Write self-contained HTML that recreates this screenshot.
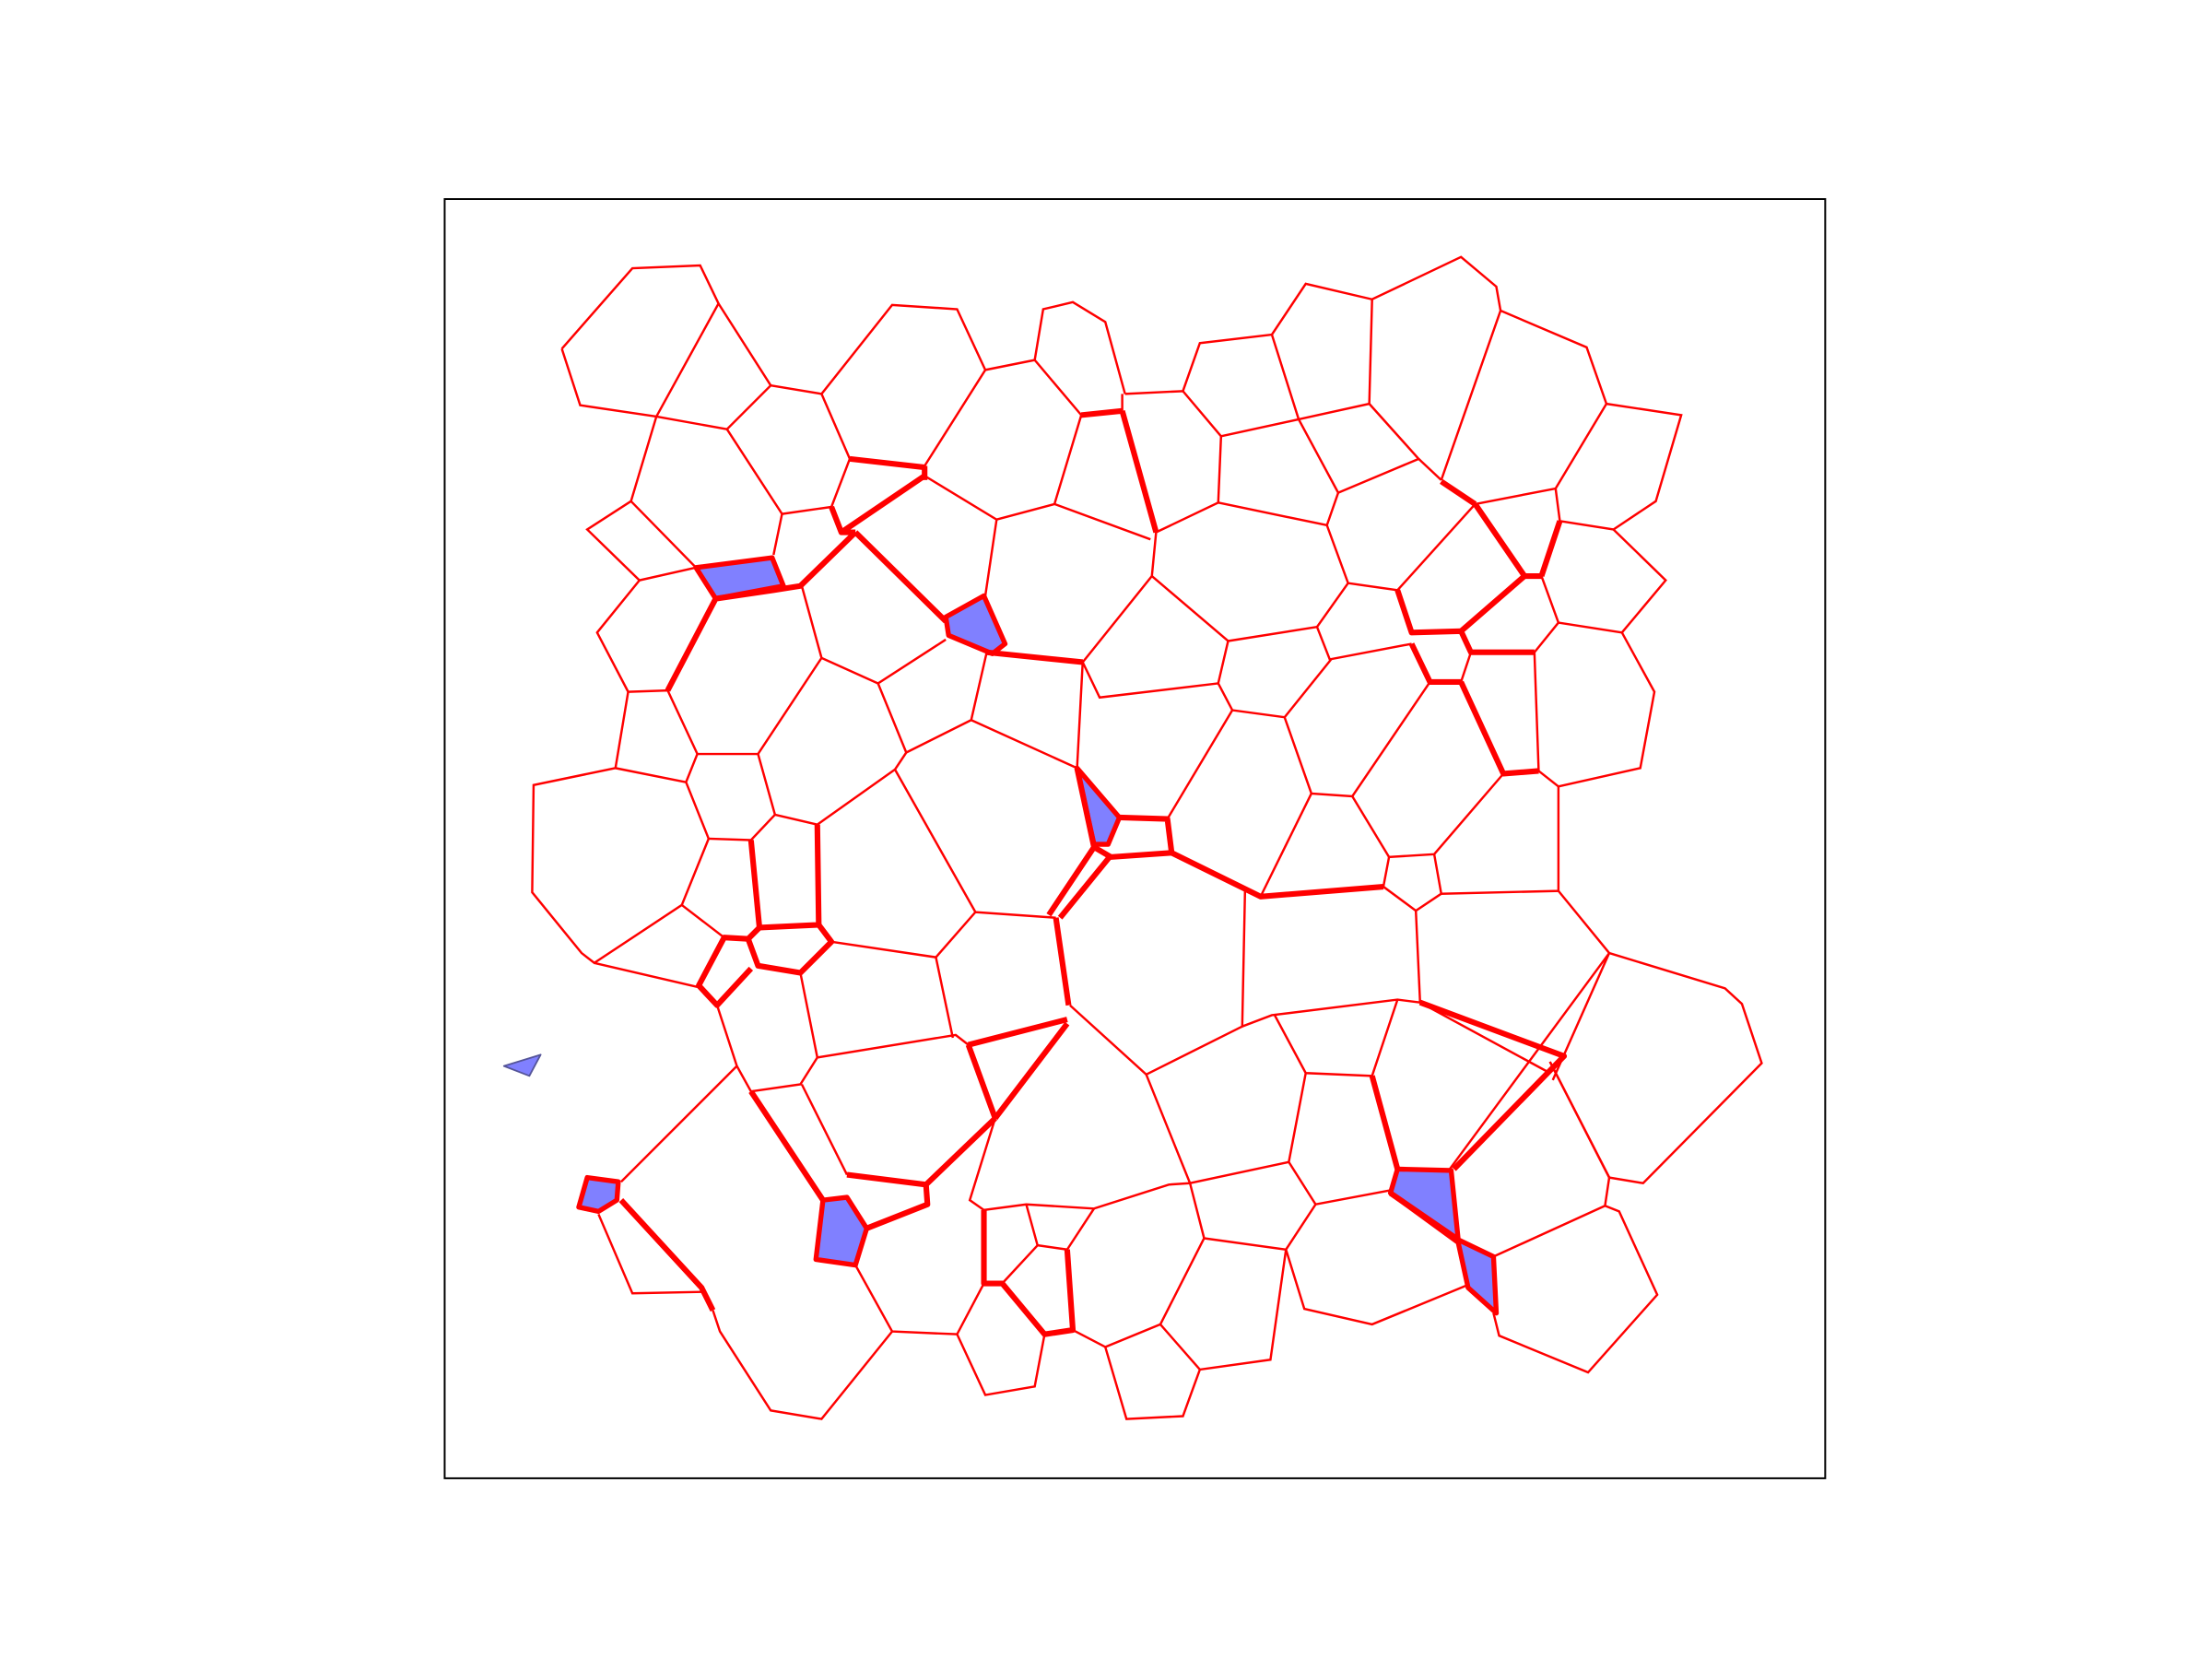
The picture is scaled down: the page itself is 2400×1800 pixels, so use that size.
<!DOCTYPE html>
<html><head><meta charset="utf-8"><style>
html,body{margin:0;padding:0;background:#fff;}
svg{display:block;}
</style></head><body>
<svg id="chart" width="2400" height="1800" viewBox="0 0 1567 1175" preserveAspectRatio="none" xmlns="http://www.w3.org/2000/svg">
<rect x="315" y="141" width="978" height="906" fill="none" stroke="#000" stroke-width="1.3"/>
<g id="fills"></g><g id="edges"></g>
</svg>
<script>
const cellFills = [
[493,402,547,395,555,415,507,424],
[670,437,697,422,712,456,703,463,672,450],
[763,544,793,579,785,598,775,598],
[583,850,600,848,614,870,606,896,578,892],
[416,834,438,837,437,850,424,858,410,855],
[985,845,990,828,1028,829,1033,878,1058,890,1060,930,1040,912,1033,880],
[357,755,383,747,375,762]
];
const thinEdges = [
[398,247,448,190,496,188,509,215,465,295,411,287,398,247],
[509,215,546,273,515,304,465,295],
[546,273,582,279,632,216,678,219,698,262,655,330],
[582,279,602,325],
[515,304,554,364,548,393],
[465,295,447,355,416,375,453,411,493,402,447,355],
[554,364,589,359,602,325],
[655,337,706,368,698,422],
[698,262,733,255,766,294],[797,279,783,228,760,214,739,219,733,255],
[795,279,795,291],
[766,294,747,357,706,368],[747,357,815,382],
[819,377,863,356,865,309,838,277,797,279],
[838,277,850,243,901,237,920,297,865,309],
[901,237,925,201,972,212,1035,182,1060,203,1063,220,1021,340],
[972,212,970,286,920,297,948,349,940,372,863,356],
[970,286,1005,325,948,349],[1005,325,1021,340],
[1063,220,1124,246,1138,286,1102,346,1045,357],
[1138,286,1191,294,1173,355,1143,375,1105,369,1102,346],
[1143,375,1180,411,1149,448,1104,441,1092,408],
[1045,357,990,418,955,413,940,372],
[1104,441,1087,462,1090,546,1104,557,1162,544,1172,490,1149,448],
[1000,456,942,467,933,444,955,413],
[933,444,870,454,863,484,779,494,767,469],
[1013,483,958,564,929,562,910,508,873,503,863,484],
[873,503,827,580],[910,508,943,467],
[1065,548,1016,605,984,607,958,564],
[1016,605,1021,633,1104,631,1104,557],
[1104,631,1140,675,1222,700,1234,711,1248,753,1164,838,1140,834,1098,752],
[1021,633,1003,645,980,628,984,607],
[893,635,929,562],
[1003,645,1006,710],
[1006,710,990,708,901,719,880,727,882,630],
[880,727,812,761,758,712],
[990,708,972,762,925,760,903,719],
[1006,710,1098,760],
[1140,675,1027,828],[1140,675,1100,765],[1098,752,1140,834],
[1058,890,1137,854,1140,834],[1137,854,1147,858,1174,917,1125,972,1062,946,1058,930],
[1040,910,972,938,924,927,911,885,932,853,985,843],
[932,853,913,823,925,760],[913,823,843,838,812,761],
[843,838,853,877,911,885,900,963,850,970,838,1003,798,1005,783,954,822,938,853,877],
[822,938,850,970],
[843,838,828,839,775,856,727,853,697,857,687,850,705,792],
[686,740,677,733,579,749,567,768,532,773,522,755,508,712],
[748,650,691,646,663,678,589,667],
[691,646,634,545,642,533,688,510,699,462],
[642,533,622,484,670,453],[622,484,582,466,568,415],
[688,510,763,544,767,469],
[663,678,675,735],[600,832,568,768],[522,755,440,837],
[606,896,632,943,678,945,697,909],
[424,860,448,916,497,915],
[505,928,510,943,546,999,582,1005,632,943],
[678,945,698,988,733,982,740,945],
[727,853,735,882,756,885],[735,882,710,909],[760,942,783,954],
[756,885,775,856],
[453,411,423,448,445,490,436,544,378,556,377,632,412,675,421,682,483,641,502,594,486,554,494,534,473,489,445,490],
[436,544,486,554],
[494,534,537,534,582,466],[537,534,549,577,532,595,502,594],
[549,577,579,584,634,545],
[530,665,513,664,483,641],
[567,689,579,749],[421,682,494,699],
[767,469,816,408,819,377],[816,408,870,454],
[1035,483,1042,462]
];
const thickEdges = [
[602,325,655,331],[655,330,655,340],
[596,377,655,337],[589,359,596,377,606,377],
[766,294,795,291],
[795,291,819,377],
[1021,341,1045,357],
[1045,357,1080,408,1035,447],[1080,408,1092,408],[1092,408,1105,369],
[990,418,1000,448,1035,447,1042,462,1087,462],
[1000,456,1013,483,1035,483],
[1035,483,1065,548,1090,546],
[980,628,893,635,830,604,827,580,793,579],
[830,604,787,607,775,600],[786,607,751,650],
[763,544,775,600,743,648],
[748,650,757,712],[686,740,756,722],
[705,792,756,725],[705,792,686,740],
[705,792,656,839,600,832],[656,839,657,853,614,870],
[532,773,583,850],
[440,850,497,912,505,928],
[697,857,697,909,710,909,740,945,760,942,756,885],
[473,489,507,424,548,418,567,415,606,377],
[606,377,670,440],[699,462,767,469],
[579,584,580,655,538,657,532,595],
[538,657,530,665,513,664,495,698,508,712,532,686],
[580,655,589,667,567,689,537,684,530,665],
[1006,710,1108,748,1030,828],
[972,762,990,828],
[985,845,1033,878]
];
const NS='http://www.w3.org/2000/svg';
const fg=document.getElementById('fills'), eg=document.getElementById('edges');
function pts(a){let s=[];for(let i=0;i<a.length;i+=2)s.push(a[i]+','+a[i+1]);return s.join(' ');}
cellFills.forEach((c,i)=>{
 const last=i===cellFills.length-1;
 const p=document.createElementNS(NS,'polygon');
 p.setAttribute('points',pts(c));
 p.setAttribute('fill','#8080ff');
 p.setAttribute('stroke',last?'#555599':'#ff0000');
 p.setAttribute('stroke-width',last?'1.2':'3.5');
 p.setAttribute('stroke-linejoin','round');
 
 
 fg.appendChild(p);
});
thinEdges.forEach(e=>{
 const l=document.createElementNS(NS,'polyline');
 l.setAttribute('points',pts(e));
 l.setAttribute('fill','none');l.setAttribute('stroke','#ff0000');l.setAttribute('stroke-width','1.6');
 
 
 eg.appendChild(l);
});
thickEdges.forEach(e=>{
 const l=document.createElementNS(NS,'polyline');
 l.setAttribute('points',pts(e));
 l.setAttribute('fill','none');l.setAttribute('stroke','#ff0000');l.setAttribute('stroke-width','4');
 l.setAttribute('stroke-linejoin','round');
 
 
 eg.appendChild(l);
});
</script>
</body></html>
